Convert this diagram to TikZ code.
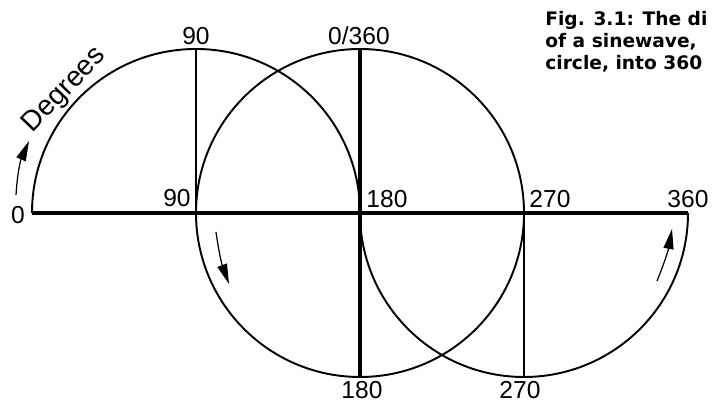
\documentclass[tikz,border=0pt]{standalone}
\usepackage{fontspec}
\setmainfont{Liberation Sans}
\newfontfamily\capfont{DejaVu Sans}
\usetikzlibrary{arrows.meta}

\begin{document}
\begin{tikzpicture}[x=0.02cm,y=0.02cm,
    lbl/.style={font=\fontsize{14}{16}\selectfont, inner sep=0pt},
    arr/.style={-{Triangle[length=0.4cm,width=0.2cm]}, line width=0.7pt},
    wheel/.style={line width=1.1pt}]
    \def\r{164}
    \useasboundingbox (0,0) rectangle (713,405);
    \clip (0,0) rectangle (713,405);
    % points on the axis
    \coordinate (x0) at (32,192);
    \coordinate (x1) at (196,192);
    \coordinate (x2) at (360,192);
    \coordinate (x3) at (524,192);
    \coordinate (x4) at (688,192);
    \coordinate (t1) at (196,356);
    \coordinate (t2) at (360,356);
    \coordinate (b2) at (360,28);
    \coordinate (b3) at (524,28);
    \draw[wheel] (x0) arc (180:0:\r);
    \draw[wheel] (x2) circle (\r);
    \draw[wheel] (x2) arc (180:360:\r);
    \draw[line width=0.6pt] (x1) -- (t1);
    \draw[line width=0.6pt] (x3) -- (b3);
    \draw[line width=2.2pt] (t2) -- (b2);
    \draw[line width=2.2pt] (x0) -- (x4);
    % degree labels
    \node[lbl] (d90t) at (196,369) {90};
    \node[lbl] (d0) at (359,369) {0/360};
    \node[lbl] (a0) at (18,190) {0};
    \node[lbl] (a90) at (177,207) {90};
    \node[lbl] (a180) at (387,206) {180};
    \node[lbl] (a270) at (550,206) {270};
    \node[lbl] (a360) at (688,206) {360};
    \node[lbl] (d180b) at (362,15) {180};
    \node[lbl] (d270b) at (520,15) {270};
    \node[font=\fontsize{16}{18}\selectfont, rotate=46, anchor=south, inner sep=1.5pt]
        (deg) at ([shift={(137:\r)}]x1) {Degrees};
    % arrows
    \coordinate (p1) at (16,210);
    \coordinate (q1) at (29,264);
    \coordinate (p2) at (216,173);
    \coordinate (q2) at (229,121);
    \coordinate (p3) at (657,124);
    \coordinate (q3) at (672,176);
    \draw[arr] (p1) to[bend left=10] (q1);
    \draw[arr] (p2) to[bend right=6] (q2);
    \draw[arr] (p3) to[bend right=6] (q3);
    % caption
    \node[anchor=north west, align=left, inner sep=0pt,
        font=\capfont\bfseries\fontsize{10.6}{12.5}\selectfont] (cap) at (545,394)
        {Fig. 3.1: The di\\of a sinewave,\\circle, into 360};
\end{tikzpicture}
\end{document}
